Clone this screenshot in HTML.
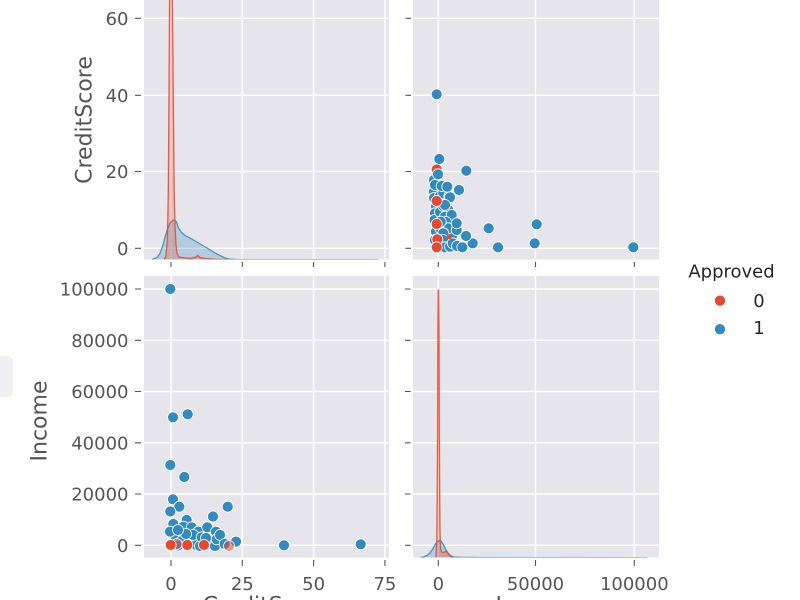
<!DOCTYPE html>
<html>
<head>
<meta charset="utf-8">
<style>
html, body { margin: 0; padding: 0; background: #ffffff; }
body { width: 800px; height: 600px; overflow: hidden; }
svg { display: block; }
text { font-family: "DejaVu Sans", "Liberation Sans", sans-serif; }
</style>
</head>
<body>
<svg width="800" height="600" viewBox="0 0 800 600" xmlns="http://www.w3.org/2000/svg">
<defs>
<clipPath id="cTL"><rect x="144" y="0" width="245" height="259.5"/></clipPath>
<clipPath id="cTR"><rect x="413" y="0" width="246" height="259.5"/></clipPath>
<clipPath id="cBL"><rect x="144" y="276" width="245" height="281.5"/></clipPath>
<clipPath id="cBR"><rect x="413" y="276" width="246" height="281.5"/></clipPath>
<symbol id="b" overflow="visible"><circle cx="0" cy="0" r="5.5" fill="#348ABD" stroke="#ffffff" stroke-width="0.8"/></symbol>
<symbol id="r" overflow="visible"><circle cx="0" cy="0" r="5.5" fill="#E24A33" stroke="#ffffff" stroke-width="0.8"/></symbol>
</defs>
<rect x="0" y="0" width="800" height="600" fill="#ffffff"/>
<rect x="-10" y="356" width="23" height="41" rx="6" fill="#f0eff3"/>
<rect x="144" y="0" width="245" height="259.5" fill="#e6e5eb"/>
<rect x="413" y="0" width="246" height="259.5" fill="#e6e5eb"/>
<rect x="144" y="276" width="245" height="281.5" fill="#e6e5eb"/>
<rect x="413" y="276" width="246" height="281.5" fill="#e6e5eb"/>
<path stroke="#ffffff" stroke-width="1.4" fill="none" d="M171,0V259.5 M242.3,0V259.5 M313.6,0V259.5 M384.9,0V259.5 M144,18.3H389 M144,95.3H389 M144,171.5H389 M144,248.3H389 M438.3,0V259.5 M535.5,0V259.5 M634.3,0V259.5 M413,18.3H659 M413,95.3H659 M413,171.5H659 M413,248.3H659 M171,276V557.5 M242.3,276V557.5 M313.6,276V557.5 M384.9,276V557.5 M144,289H389 M144,340.3H389 M144,391.5H389 M144,442.8H389 M144,494H389 M144,545.3H389 M438.3,276V557.5 M535.5,276V557.5 M634.3,276V557.5 M413,289H659 M413,340.3H659 M413,391.5H659 M413,442.8H659 M413,494H659 M413,545.3H659"/>
<path stroke="#555555" stroke-width="1.1" fill="none" d="M135,18.3H141 M135,95.3H141 M135,171.5H141 M135,248.3H141 M405.5,18.3H411 M405.5,95.3H411 M405.5,171.5H411 M405.5,248.3H411 M171,262V267 M242.3,262V267 M313.6,262V267 M384.9,262V267 M438.3,262V267 M535.5,262V267 M634.3,262V267 M135,289H141 M135,340.3H141 M135,391.5H141 M135,442.8H141 M135,494H141 M135,545.3H141 M405,289H410.5 M405,340.3H410.5 M405,391.5H410.5 M405,442.8H410.5 M405,494H410.5 M405,545.3H410.5 M171,560V566 M242.3,560V566 M313.6,560V566 M384.9,560V566 M438.3,560V566 M535.5,560V566 M634.3,560V566"/>
<g fill="#555555" font-size="18" text-anchor="end">
<text x="128.5" y="24.8">60</text>
<text x="128.5" y="101.8">40</text>
<text x="128.5" y="178">20</text>
<text x="128.5" y="254.8">0</text>
<text x="128.5" y="295.5">100000</text>
<text x="128.5" y="346.8">80000</text>
<text x="128.5" y="398">60000</text>
<text x="128.5" y="449.3">40000</text>
<text x="128.5" y="500.5">20000</text>
<text x="128.5" y="551.8">0</text>
</g>
<g fill="#555555" font-size="18" text-anchor="middle">
<text x="171" y="590">0</text>
<text x="242.3" y="590">25</text>
<text x="313.6" y="590">50</text>
<text x="384.9" y="590">75</text>
<text x="438.3" y="590">0</text>
<text x="535.5" y="590">50000</text>
<text x="634.3" y="590">100000</text>
</g>
<g fill="#555555" font-size="22" text-anchor="middle">
<text transform="translate(91.7,120) rotate(-90)">CreditScore</text>
<text transform="translate(46.5,421) rotate(-90)">Income</text>
<text x="266.5" y="612.5">CreditScore</text>
<text x="536" y="612.5">Income</text>
</g>
<g clip-path="url(#cTL)">
<path d="M152,259.5 L157,257.5 L160,253.5 L163,245 L165,237 L167.5,229 L170,223 L172.5,220.5 L174.5,220 L176.5,222 L178.5,228 L181,232 L185,235.5 L190,238 L196,241.5 L202,245 L208,248.5 L215,253 L220,255.5 L225,258 L230,259.2 L240,259.6 L378,259.6 L378,260 L152,260 Z" fill="#348ABD" fill-opacity="0.27"/>
<path d="M152,259.5 L157,257.5 L160,253.5 L163,245 L165,237 L167.5,229 L170,223 L172.5,220.5 L174.5,220 L176.5,222 L178.5,228 L181,232 L185,235.5 L190,238 L196,241.5 L202,245 L208,248.5 L215,253 L220,255.5 L225,258 L230,259.2 L240,259.6 L378,259.6" fill="none" stroke="#348ABD" stroke-width="1.3" stroke-opacity="0.85"/>
<path d="M164,259.6 L165.7,257 L167,245 L167.7,225 L168.3,190 L168.8,120 L169.3,40 L169.6,0 L170,-20 L172,-20 L172.4,0 L172.8,40 L173.5,120 L174.2,190 L175,225 L176,245 L177,253 L179,257 L184,257.8 L190,258.4 L195,257.5 L197.7,255.5 L200,257.5 L205,258.5 L215,259.3 L232,259.6 L232,260 L164,260 Z" fill="#E24A33" fill-opacity="0.27"/>
<path d="M164,259.6 L165.7,257 L167,245 L167.7,225 L168.3,190 L168.8,120 L169.3,40 L169.6,0 L170,-20 M172,-20 L172.4,0 L172.8,40 L173.5,120 L174.2,190 L175,225 L176,245 L177,253 L179,257 L184,257.8 L190,258.4 L195,257.5 L197.7,255.5 L200,257.5 L205,258.5 L215,259.3 L232,259.6" fill="none" stroke="#E24A33" stroke-width="1.3" stroke-opacity="0.85"/>
</g>
<g clip-path="url(#cBR)">
<path d="M420,557.6 L423.3,557 L427,555.5 L430,553 L433,548.5 L435.5,544 L437.5,541.5 L439.3,540.5 L441.3,541.5 L443.3,544.5 L446,550 L448.3,553.5 L451,556 L454,557 L460,557.3 L480,557.5 L647,557.6 L647,558 L420,558 Z" fill="#348ABD" fill-opacity="0.27"/>
<path d="M420,557.6 L423.3,557 L427,555.5 L430,553 L433,548.5 L435.5,544 L437.5,541.5 L439.3,540.5 L441.3,541.5 L443.3,544.5 L446,550 L448.3,553.5 L451,556 L454,557 L460,557.3 L480,557.5 L647,557.6" fill="none" stroke="#348ABD" stroke-width="1.3" stroke-opacity="0.85"/>
<path d="M435.8,557.6 L436.8,540 L437.5,450 L437.9,330 L438.2,290 L438.6,290 L439,330 L439.4,450 L440,530 L440.6,548 L441.5,552 L444,552.5 L446,551 L448,553.5 L450,556 L453,557.4 L453,558 L435.8,558 Z" fill="#E24A33" fill-opacity="0.3"/>
<path d="M435.8,557.6 L436.8,540 L437.5,450 L437.9,330 L438.2,290 L438.6,290 L439,330 L439.4,450 L440,530 L440.6,548 L441.5,552 L444,552.5 L446,551 L448,553.5 L450,556 L453,557.4" fill="none" stroke="#E24A33" stroke-width="1.3" stroke-opacity="0.85"/>
</g>
<g clip-path="url(#cTR)">
<use href="#b" x="434" y="180"/>
<use href="#b" x="434" y="191.7"/>
<use href="#b" x="434" y="198"/>
<use href="#b" x="436" y="206.7"/>
<use href="#b" x="435" y="213.3"/>
<use href="#b" x="434.5" y="220"/>
<use href="#b" x="436" y="231.7"/>
<use href="#b" x="435" y="185"/>
<use href="#b" x="435" y="240"/>
<use href="#b" x="440" y="196"/>
<use href="#b" x="440" y="212"/>
<use href="#b" x="440" y="228"/>
<use href="#b" x="441" y="245"/>
<use href="#b" x="443.3" y="193.3"/>
<use href="#b" x="449.3" y="196"/>
<use href="#b" x="443.3" y="206"/>
<use href="#b" x="448.3" y="210"/>
<use href="#b" x="445" y="216.7"/>
<use href="#b" x="451.7" y="215"/>
<use href="#b" x="446" y="222"/>
<use href="#b" x="452" y="236"/>
<use href="#b" x="448.3" y="228.3"/>
<use href="#b" x="443.3" y="233.3"/>
<use href="#b" x="456.7" y="230"/>
<use href="#b" x="456.7" y="223.3"/>
<use href="#b" x="440.7" y="221.7"/>
<use href="#b" x="443.3" y="240"/>
<use href="#b" x="445" y="247.3"/>
<use href="#b" x="450" y="246.7"/>
<use href="#b" x="452.7" y="243.3"/>
<use href="#b" x="457" y="246"/>
<use href="#b" x="462.3" y="247.3"/>
<use href="#b" x="472.7" y="243.3"/>
<use href="#b" x="466" y="236"/>
<use href="#b" x="441.7" y="186"/>
<use href="#b" x="447.3" y="186.7"/>
<use href="#b" x="459" y="190"/>
<use href="#b" x="450" y="197.3"/>
<use href="#b" x="445" y="205"/>
<use href="#b" x="436.7" y="94.3"/>
<use href="#b" x="439.3" y="159"/>
<use href="#b" x="466.3" y="170.7"/>
<use href="#b" x="488.7" y="228.3"/>
<use href="#b" x="536.7" y="224.3"/>
<use href="#b" x="498" y="247.3"/>
<use href="#b" x="534.7" y="243.3"/>
<use href="#b" x="633.3" y="247.3"/>
<use href="#r" x="436.7" y="169.5"/>
<use href="#r" x="436.7" y="201"/>
<use href="#r" x="436.7" y="224"/>
<use href="#r" x="437.3" y="239.3"/>
<use href="#r" x="436.7" y="247.3"/>
<circle cx="449.3" cy="236.7" r="2.5" fill="#E24A33"/>
<use href="#b" x="438" y="174.3"/>
</g>
<g clip-path="url(#cBL)">
<use href="#b" x="170.3" y="289"/>
<use href="#b" x="173" y="417.3"/>
<use href="#b" x="187.7" y="414.3"/>
<use href="#b" x="170.3" y="465"/>
<use href="#b" x="184.3" y="477"/>
<use href="#b" x="176" y="537"/>
<use href="#b" x="182" y="541"/>
<use href="#b" x="190" y="543"/>
<use href="#b" x="196" y="545"/>
<use href="#b" x="210" y="544"/>
<use href="#b" x="178" y="545.5"/>
<use href="#b" x="200" y="546"/>
<use href="#b" x="215" y="546"/>
<use href="#b" x="173" y="499.3"/>
<use href="#b" x="179.3" y="506.7"/>
<use href="#b" x="170.3" y="511.5"/>
<use href="#b" x="227.7" y="506.7"/>
<use href="#b" x="213" y="516.5"/>
<use href="#b" x="186.7" y="520"/>
<use href="#b" x="173.3" y="524"/>
<use href="#b" x="183.3" y="526.7"/>
<use href="#b" x="191.7" y="527.3"/>
<use href="#b" x="198.3" y="531.7"/>
<use href="#b" x="170" y="531.7"/>
<use href="#b" x="207.3" y="527.3"/>
<use href="#b" x="216" y="531.7"/>
<use href="#b" x="193.3" y="535"/>
<use href="#b" x="201.7" y="537.3"/>
<use href="#b" x="216.7" y="539.3"/>
<use href="#b" x="186" y="534"/>
<use href="#b" x="206" y="538"/>
<use href="#b" x="178" y="530"/>
<use href="#b" x="220" y="535"/>
<use href="#b" x="224.7" y="544"/>
<use href="#b" x="236" y="541.7"/>
<use href="#b" x="284" y="545.3"/>
<use href="#b" x="360.7" y="544.3"/>
<circle cx="176.7" cy="544" r="5.5" fill="#E24A33" fill-opacity="0.5" stroke="#ffffff" stroke-width="0.8"/>
<circle cx="229" cy="546" r="5.5" fill="#E24A33" fill-opacity="0.5" stroke="#ffffff" stroke-width="0.8"/>
<use href="#r" x="170.7" y="545"/>
<use href="#r" x="187.3" y="545"/>
<use href="#r" x="204" y="545"/>
</g>
<g font-size="18" fill="#262626">
<text x="731.5" y="277.5" text-anchor="middle">Approved</text>
<circle cx="720" cy="300.7" r="5.6" fill="#E24A33" stroke="#ffffff" stroke-width="0.8"/>
<circle cx="720" cy="329.2" r="5.6" fill="#348ABD" stroke="#ffffff" stroke-width="0.8"/>
<text x="759" y="306.8" text-anchor="middle">0</text>
<text x="759" y="334" text-anchor="middle">1</text>
</g>
</svg>
</body>
</html>
